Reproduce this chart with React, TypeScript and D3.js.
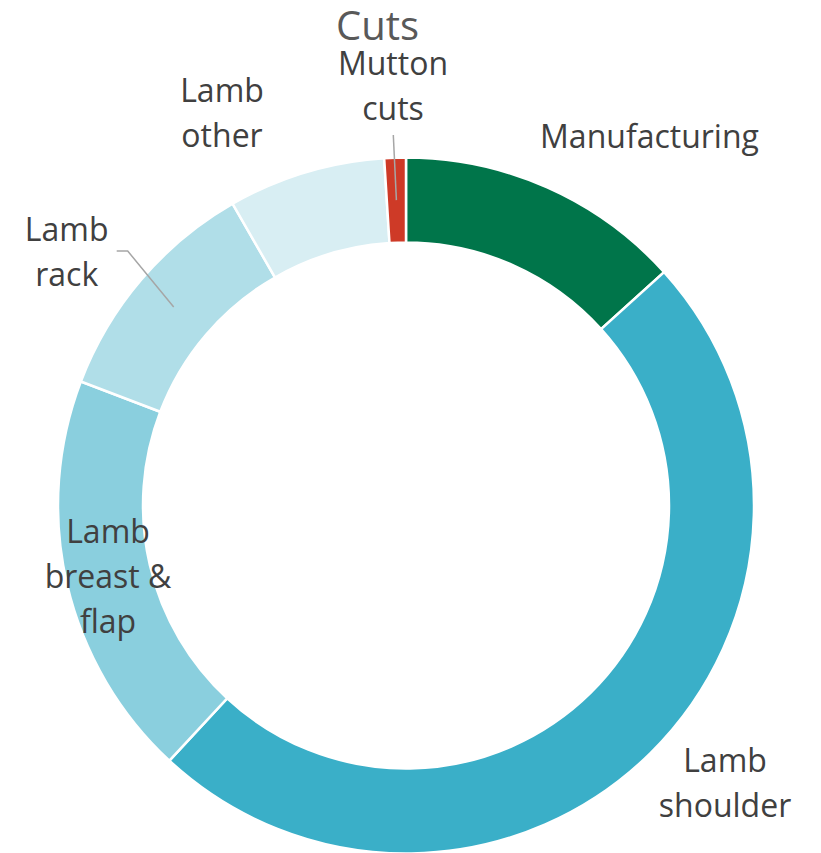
import React from "react";
import * as d3 from "d3";

const categories = ["Manufacturing", "Lamb shoulder", "Lamb breast & flap", "Lamb rack", "Lamb other", "Mutton cuts"];
const values = [13.3, 48.6, 18.9, 10.9, 7.3, 1.0];
const colors = ["#00754A", "#3AAFC8", "#8ACFDE", "#B0DEE8", "#D8EEF3", "#CE3A27"];
const labelLines = [["Manufacturing"], ["Lamb", "shoulder"], ["Lamb", "breast &", "flap"], ["Lamb", "rack"], ["Lamb", "other"], ["Mutton", "cuts"]];
const title = "Cuts";

// layout: label anchor (center x, first baseline) relative to ring center, and leader start points
const labelPos: [number, number][] = [[243.5, -357.5], [319, 266], [-298, 37.5], [-339.3, -264.8], [-184, -403.8], [-13, -430.5]];
const leaders: ([number, number][] | null)[] = [null, null, null, [[-289.3, -254.5], [-278.3, -254.5]], null, [[-12.7, -370.5]]];

const W = 821, H = 853;
const cx = 406, cy = 505.5, R = 348, r = 263;
const lineH = 45;

export default function App() {
  const pie = d3.pie<number>().sort(null).value((d) => d);
  const arcs = pie(values);
  const arc = d3.arc<d3.PieArcDatum<number>>().innerRadius(r).outerRadius(R);
  const font = "'Open Sans', sans-serif";
  return (
    <svg width={W} height={H} style={{ position: "absolute", left: 0, top: 0, overflow: "hidden", background: "#fff" }}>
      <text x={377.5} y={39.5} textAnchor="middle" fontFamily={font} fontSize={40} fill="#595959">{title}</text>
      <g transform={`translate(${cx},${cy})`}>
        {arcs.map((a, i) => (
          <path key={categories[i]} d={arc(a) || ""} fill={colors[i]} stroke="#fff" strokeWidth={2.5} />
        ))}
        {arcs.map((a, i) => {
          const pts = leaders[i];
          if (!pts) return null;
          const c = arc.centroid(a);
          const all = [...pts, c as [number, number]];
          return <path key={"l" + i} d={d3.line()(all) || ""} fill="none" stroke="#A6A6A6" strokeWidth={1.5} />;
        })}
        {labelLines.map((lines, i) => (
          <text key={"t" + i} x={labelPos[i][0]} y={labelPos[i][1]} textAnchor="middle" fontFamily={font} fontSize={32} fill="#404040">
            {lines.map((ln, j) => (
              <tspan key={j} x={labelPos[i][0]} dy={j === 0 ? 0 : lineH}>{ln}</tspan>
            ))}
          </text>
        ))}
      </g>
    </svg>
  );
}
